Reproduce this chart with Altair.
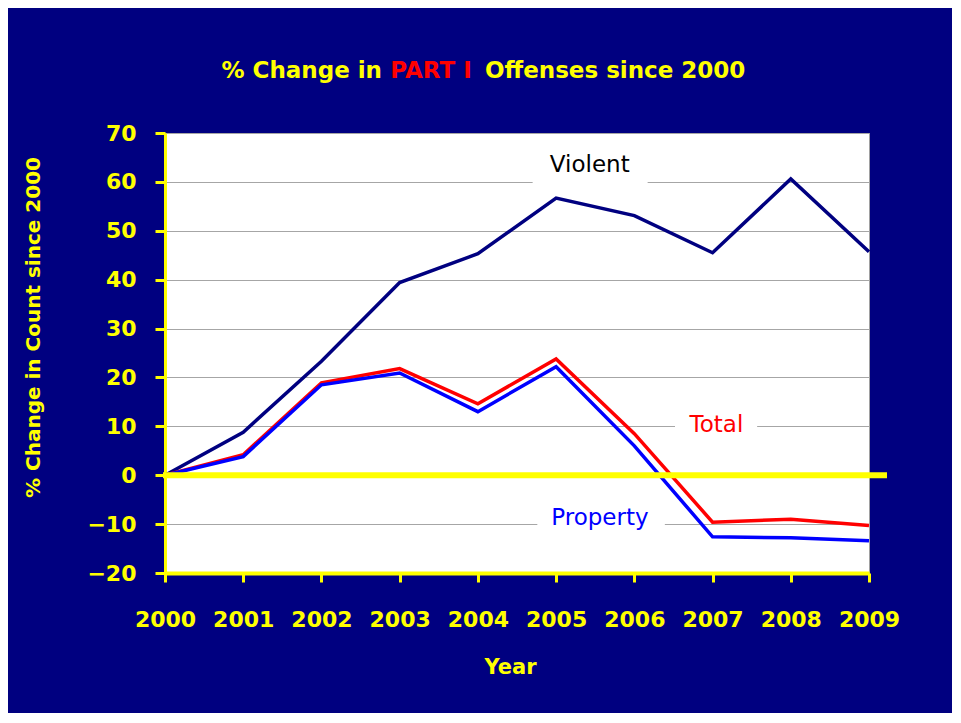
import altair as alt
import pandas as pd

years = [2000, 2001, 2002, 2003, 2004, 2005, 2006, 2007, 2008, 2009]
violent = [0, 8.8, 23.3, 39.4, 45.3, 56.7, 53.1, 45.5, 60.6, 45.7]
total = [0, 4.2, 18.9, 21.8, 14.6, 23.8, 8.5, -9.6, -9.0, -10.3]
prop = [0, 3.8, 18.5, 20.9, 13.0, 22.2, 6.0, -12.6, -12.8, -13.4]
series_names = ["Violent", "Total", "Property"]
series_colors = ["#000080", "#ff0000", "#0000ff"]
y_ticks = [-20, -10, 0, 10, 20, 30, 40, 50, 60, 70]

# series label annotations (anchor in data coords, white box behind)
ann_label = ["Violent", "Total", "Property"]
ann_x = [2005.43, 2007.05, 2005.56]
ann_y = [63.4, 10.3, -8.7]
ann_x0 = [2004.70, 2006.52, 2004.76]
ann_x1 = [2006.17, 2007.57, 2006.39]
ann_y0 = [57.0, 6.5, -12.0]
ann_y1 = [69.0, 14.5, -5.0]
ann_color = ["#000000", "#ff0000", "#0000ff"]

FONT = "DejaVu Sans"
YEL = "#ffff00"

rows = []
for name, vals in zip(series_names, [violent, total, prop]):
    for yr, v in zip(years, vals):
        rows.append({"year": yr, "series": name, "value": v})
df = pd.DataFrame(rows)

ann = pd.DataFrame({"label": ann_label, "x": ann_x, "y": ann_y,
                    "x0": ann_x0, "x1": ann_x1, "y0": ann_y0, "y1": ann_y1,
                    "color": ann_color})

xscale = alt.Scale(domain=[2000, 2009], nice=False, zero=False)
yscale = alt.Scale(domain=[-20, 70], nice=False, zero=False)

xaxis = alt.Axis(values=years, format="d", labelColor=YEL, labelFont=FONT,
                 labelFontSize=22, labelFontWeight="bold", labelFlush=False,
                 labelOverlap=False, labelPadding=37, labelBaseline="middle",
                 tickSize=9, tickColor=YEL, tickWidth=3, domainColor=YEL,
                 domainWidth=4, grid=False, title="Year", titleColor=YEL,
                 titleFont=FONT, titleFontSize=21, titleFontWeight="bold",
                 titleX=345, titleY=94, titleBaseline="middle")
yaxis = alt.Axis(values=y_ticks, format="d", labelColor=YEL, labelFont=FONT,
                 labelFontSize=22, labelFontWeight="bold", labelFlush=False,
                 labelOverlap=False, labelPadding=19, tickSize=10,
                 tickColor=YEL, tickWidth=3, domainColor=YEL, domainWidth=3,
                 grid=True, gridColor="#a6a6a6", gridWidth=1,
                 title="% Change in Count since 2000", titleColor=YEL,
                 titleFont=FONT, titleFontSize=20, titleFontWeight="bold",
                 titleX=-132, titleY=194, titleBaseline="middle",
                 titleAlign="center")

lines = alt.Chart(df).mark_line(strokeWidth=3.5).encode(
    x=alt.X("year:Q", scale=xscale, axis=xaxis),
    y=alt.Y("value:Q", scale=yscale, axis=yaxis),
    color=alt.Color("series:N", scale=alt.Scale(domain=series_names,
                                                range=series_colors),
                    legend=None),
    detail="series:N",
)

boxes = alt.Chart(ann).mark_rect(color="white").encode(
    x=alt.X("x0:Q", scale=xscale), x2="x1:Q",
    y=alt.Y("y0:Q", scale=yscale), y2="y1:Q",
)

labels = alt.Chart(ann).mark_text(font=FONT, fontSize=23, baseline="middle",
                                  align="center").encode(
    x=alt.X("x:Q", scale=xscale), y=alt.Y("y:Q", scale=yscale),
    text="label:N", color=alt.Color("color:N", scale=None),
)

zero = alt.Chart(pd.DataFrame({"z": [0]})).mark_rule(
    color=YEL, strokeWidth=6).encode(
    y=alt.Y("z:Q", scale=yscale), x=alt.value(-2), x2=alt.value(722))

tdata = pd.DataFrame({"t": [0]})
t1 = alt.Chart(tdata).mark_text(text="% Change in", font=FONT, fontSize=23,
                                fontWeight="bold", color=YEL, align="right",
                                baseline="middle").encode(
    x=alt.value(217), y=alt.value(-62))
t2 = alt.Chart(tdata).mark_text(text="PART I", font=FONT, fontSize=23,
                                fontWeight="bold", color="#ff0000",
                                align="center", baseline="middle").encode(
    x=alt.value(266), y=alt.value(-62))
t3 = alt.Chart(tdata).mark_text(text="Offenses since 2000", font=FONT,
                                fontSize=23, fontWeight="bold", color=YEL,
                                align="left", baseline="middle").encode(
    x=alt.value(320), y=alt.value(-62))

chart = alt.layer(boxes, lines, zero, labels, t1, t2, t3).properties(
    width=704, height=440,
    autosize=alt.AutoSizeParams(type="none"),
    padding={"left": 157, "top": 125, "right": 83, "bottom": 140},
    background="#000080",
).configure_view(fill="white", stroke="#a0a0a0", strokeWidth=1)

chart.save("out.html", embed_options={"renderer": "svg", "actions": False})
